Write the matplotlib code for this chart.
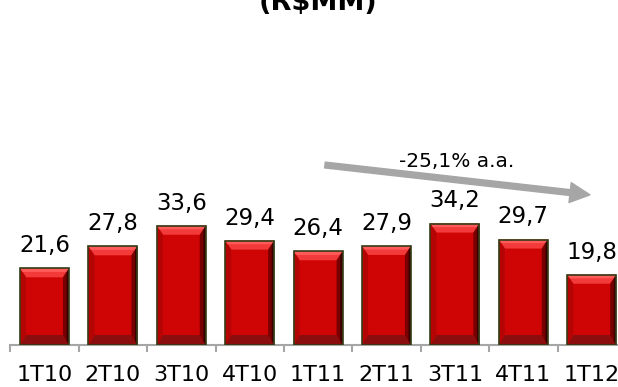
import matplotlib
matplotlib.use("Agg")
import matplotlib.pyplot as plt
import numpy as np
from matplotlib.patches import Polygon

# Quarterly values (R$ MM)
quarters = ['1T10', '2T10', '3T10', '4T10', '1T11', '2T11', '3T11', '4T11', '1T12']
values = [21.6, 27.8, 33.6, 29.4, 26.4, 27.9, 34.2, 29.7, 19.8]
growth_label = '-25,1% a.a.'

fig = plt.figure(figsize=(6.18, 3.87), dpi=100)
ax = fig.add_axes([10.3 / 618, 42 / 387, 615.6 / 618, 213 / 387])
ax.set_xlim(-0.5, len(values) - 0.5)
ax.set_ylim(0, 60)

x = np.arange(len(values))
bar_w = 0.715
bars = ax.bar(x, values, width=bar_w, color='#cf0404', zorder=2)

# pixel -> data conversion for the bevel facets
sx = ax.bbox.width / (len(values))
sy = ax.bbox.height / 60
dx, dt, db = 6 / sx, 9 / sy, 10 / sy

for b in bars:
    x0, w, h = b.get_x(), b.get_width(), b.get_height()
    x1 = x0 + w
    facets = [
        ([(x0, h), (x1, h), (x1 - dx, h - dt), (x0 + dx, h - dt)], '#f23a3a'),
        ([(x0, 0), (x1, 0), (x1 - dx, db), (x0 + dx, db)], '#8c0d0d'),
        ([(x0, 0), (x0, h), (x0 + dx, h - dt), (x0 + dx, db)], '#b50404'),
        ([(x1, 0), (x1, h), (x1 - dx, h - dt), (x1 - dx, db)], '#780000'),
    ]
    for pts, c in facets:
        ax.add_patch(Polygon(pts, closed=True, facecolor=c, edgecolor='none', zorder=3))
    # light strip along the top edge
    ax.add_patch(Polygon([(x0, h), (x1, h), (x1 - dx * 0.4, h - dt * 0.4), (x0 + dx * 0.4, h - dt * 0.4)],
                         closed=True, facecolor='#ff5a5a', edgecolor='none', zorder=3))
    # dark shading on the right edge
    ax.add_patch(Polygon([(x1, 0), (x1, h), (x1 - dx * 0.4, h - dt * 0.4), (x1 - dx * 0.4, db * 0.4)],
                         closed=True, facecolor='#3a0000', edgecolor='none', zorder=3))

# outline
ax.bar(x, values, width=bar_w, fill=False, edgecolor='#333d17', linewidth=1.2, zorder=4)

# value labels
for xi, v in zip(x, values):
    ax.annotate(f'{v:.1f}'.replace('.', ','), (xi, v), xytext=(0, 8), textcoords='offset points',
                ha='center', va='bottom', fontsize=16.5, color='black')

# trend arrow
ax.annotate('', xy=(7.975, 42.3), xytext=(4.10, 50.7),
            arrowprops=dict(arrowstyle='simple,head_length=1.2,head_width=1.2,tail_width=0.35',
                            mutation_scale=12, color='#a6a6a6', shrinkA=0, shrinkB=0),
            annotation_clip=False)
ax.text(6.03, 51.8, growth_label, ha='center', va='center', fontsize=14.5, color='black')

# axes styling
for s in ['top', 'right', 'left']:
    ax.spines[s].set_visible(False)
ax.spines['bottom'].set_color('#a6a6a6')
ax.spines['bottom'].set_linewidth(1.5)
ax.set_yticks([])
ax.set_xticks(np.arange(-0.5, len(values)), labels=[])
ax.set_xticks(x, labels=quarters, minor=True)
ax.tick_params(axis='x', which='major', length=5, width=1.5, color='#a6a6a6', direction='out')
ax.tick_params(axis='x', which='minor', length=0, pad=14.5, labelsize=16)

fig.text(318 / 618, 1 - 9.5 / 387, '(R$MM)', ha='center', va='baseline', fontsize=19.5, fontweight='bold')

fig.savefig('out.png', dpi=100)
